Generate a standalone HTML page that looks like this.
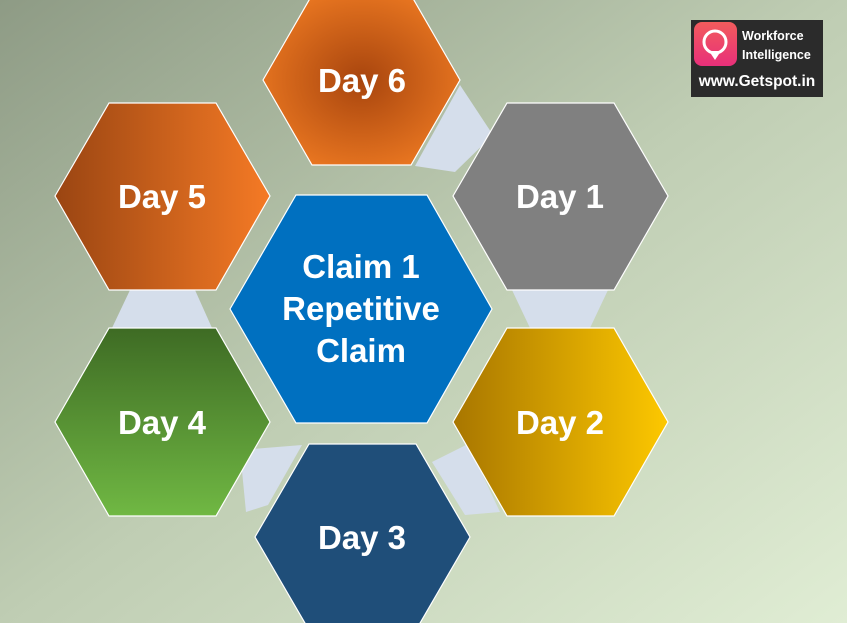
<!DOCTYPE html>
<html><head><meta charset="utf-8"><style>
html,body{margin:0;padding:0;width:847px;height:623px;overflow:hidden}
svg{display:block}
text{font-family:"Liberation Sans",sans-serif;font-weight:bold}
</style></head><body>
<svg width="847" height="623" viewBox="0 0 847 623">
<defs>
<linearGradient id="bg" x1="0" y1="0" x2="1" y2="1">
<stop offset="0" stop-color="#8e9b85"/><stop offset="0.5" stop-color="#bfcdb3"/><stop offset="1" stop-color="#e0edd4"/></linearGradient>
<radialGradient id="g6" cx="0.5" cy="0.5" r="0.6"><stop offset="0" stop-color="#a8450e"/><stop offset="1" stop-color="#ee7a22"/></radialGradient>
<linearGradient id="g5" x1="0" y1="0" x2="1" y2="0"><stop offset="0" stop-color="#9a4512"/><stop offset="1" stop-color="#f57a25"/></linearGradient>
<linearGradient id="g4" x1="0" y1="0" x2="0" y2="1"><stop offset="0" stop-color="#3e6b24"/><stop offset="1" stop-color="#70b843"/></linearGradient>
<linearGradient id="g2" x1="0" y1="0" x2="1" y2="0"><stop offset="0" stop-color="#a87600"/><stop offset="1" stop-color="#fdc800"/></linearGradient>
<linearGradient id="lg" x1="0" y1="0" x2="0" y2="1"><stop offset="0" stop-color="#f25c5c"/><stop offset="1" stop-color="#e8307a"/></linearGradient>
</defs>
<rect width="847" height="623" fill="url(#bg)"/>
<g fill="#d5deeb">
<polygon points="460,85 493,135 455,172 415,166"/>
<polygon points="512,290 608,290 590,328 530,328"/>
<polygon points="130,290 195,290 212,328 112,328"/>
<polygon points="240,450 302,445 268,505 246,512"/>
<polygon points="432,462 468,444 500,512 465,515"/>
</g>
<g stroke="#ffffff" stroke-width="1.2">
<polygon fill="url(#g6)" points="263,80 312,-5 411,-5 460,80 411,165 312,165"/>
<polygon fill="#808080" points="453,196 507,103 614,103 668,196 614,290 507,290"/>
<polygon fill="url(#g5)" points="55,196 109,103 216,103 270,196 216,290 109,290"/>
<polygon fill="url(#g4)" points="55,422 109,328 216,328 270,422 216,516 109,516"/>
<polygon fill="url(#g2)" points="453,422 507,328 614,328 668,422 614,516 507,516"/>
<polygon fill="#1f4e79" points="255,537 309,444 416,444 470,537 416,630 309,630"/>
<polygon fill="#0070c0" points="230,309 296,195 427,195 492,309 427,423 296,423"/>
</g>
<g fill="#fff" font-size="33" text-anchor="middle">
<text x="362" y="92">Day 6</text>
<text x="560" y="208">Day 1</text>
<text x="162" y="208">Day 5</text>
<text x="162" y="434">Day 4</text>
<text x="560" y="434">Day 2</text>
<text x="362" y="549">Day 3</text>
<text x="361" y="278">Claim 1</text>
<text x="361" y="320">Repetitive</text>
<text x="361" y="362">Claim</text>
</g>
<rect x="691" y="20" width="132" height="77" fill="#2b2b2b"/>
<rect x="694" y="22" width="43" height="44" rx="8" fill="url(#lg)"/>
<circle cx="715" cy="42" r="11" fill="none" stroke="#fff" stroke-width="3"/>
<polygon points="709,51 721,51 715,60" fill="#fff"/>
<g fill="#fff" font-size="12.5"><text x="742" y="40">Workforce</text><text x="742" y="59">Intelligence</text></g>
<text x="757" y="86" fill="#fff" font-size="15.5" text-anchor="middle">www.Getspot.in</text>
</svg>
</body></html>
